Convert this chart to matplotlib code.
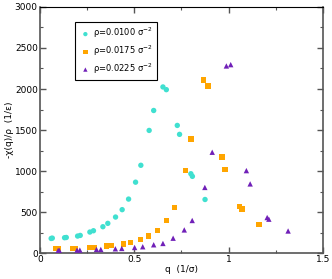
import numpy as np
import matplotlib
matplotlib.use("Agg")
from matplotlib import pyplot as plt
from matplotlib.ticker import MultipleLocator, FuncFormatter

# 데이터
q1 = [0.060, 0.066, 0.131, 0.140, 0.200, 0.214, 0.265, 0.284, 0.334, 0.360, 0.401,
      0.436, 0.470, 0.507, 0.535, 0.579, 0.603, 0.652, 0.670, 0.728, 0.740, 0.800,
      0.808, 0.875]
chi1 = [178, 182, 187, 190, 207, 215, 256, 272, 321, 362, 439,
        529, 658, 864, 1070, 1495, 1738, 2025, 1992, 1556, 1447, 967,
        935, 653]

q2 = [0.086, 0.097, 0.174, 0.190, 0.264, 0.288, 0.354, 0.381, 0.442, 0.479, 0.534,
      0.577, 0.622, 0.670, 0.712, 0.771, 0.800, 0.866, 0.891, 0.965, 0.981, 1.058,
      1.071, 1.160]
chi2 = [56, 52, 56, 56, 64, 69, 85, 93, 109, 125, 165,
        210, 278, 397, 552, 1008, 1390, 2110, 2035, 1173, 1020, 564,
        536, 347]

q3 = [0.097, 0.103, 0.197, 0.212, 0.300, 0.323, 0.400, 0.434, 0.502, 0.545, 0.603,
      0.652, 0.706, 0.765, 0.807, 0.874, 0.913, 0.988, 1.011, 1.094, 1.114, 1.204,
      1.213, 1.315]
chi3 = [32, 32, 36, 36, 44, 44, 52, 56, 68, 77, 101,
        117, 181, 282, 397, 800, 1229, 2281, 2297, 1005, 843, 433,
        413, 269]

labels = ["ρ=0.0100 σ$^{-2}$", "ρ=0.0175 σ$^{-2}$", "ρ=0.0225 σ$^{-2}$"]
colors = ["#40e0d0", "#ffa500", "#7020b8"]
markers = ["o", "s", "^"]

plt.rcParams['font.family'] = ['DejaVu Sans']
plt.rcParams['mathtext.fontset'] = 'dejavusans'

fig = plt.figure(figsize=(3.32, 2.79), dpi=100)
ax = fig.add_axes([0.12, 0.093, 0.853, 0.882])

for q, chi, c, m, lab in zip([q1, q2, q3], [chi1, chi2, chi3], colors, markers, labels):
    ax.scatter(q, chi, s=15, c=c, marker=m, edgecolors='none', label=lab, zorder=3)

ax.set_xlim(0, 1.5)
ax.set_ylim(0, 3000)
ax.xaxis.set_major_locator(MultipleLocator(0.5))
ax.xaxis.set_minor_locator(MultipleLocator(0.25))
ax.yaxis.set_major_locator(MultipleLocator(500))
ax.yaxis.set_minor_locator(MultipleLocator(250))
ax.xaxis.set_major_formatter(FuncFormatter(lambda v, p: f"{v:g}"))

ax.tick_params(which='both', direction='in', top=True, right=True,
               labelsize=6.5, colors='#555555', labelcolor='black', pad=1.5)
ax.tick_params(which='major', length=4, width=1)
ax.tick_params(which='minor', length=2, width=0.8)
for s in ax.spines.values():
    s.set_color('#555555')
    s.set_linewidth(1.2)
ax.spines['top'].set_color('black')
ax.spines['top'].set_linewidth(0.8)

ax.set_xlabel("q  (1/σ)", fontsize=6.5, labelpad=0.5)
ax.set_ylabel("-χ(q)/ρ  (1/ε)", fontsize=6.5, labelpad=0.5)

leg = ax.legend(loc='upper left', bbox_to_anchor=(0.124, 0.94), fontsize=6,
                fancybox=False, framealpha=1, edgecolor='black', handletextpad=0.2,
                borderpad=0.5, labelspacing=0.4, handlelength=1.5, markerscale=0.8,
                borderaxespad=0)
leg.get_frame().set_linewidth(0.8)

fig.savefig("out.png", dpi=100)
